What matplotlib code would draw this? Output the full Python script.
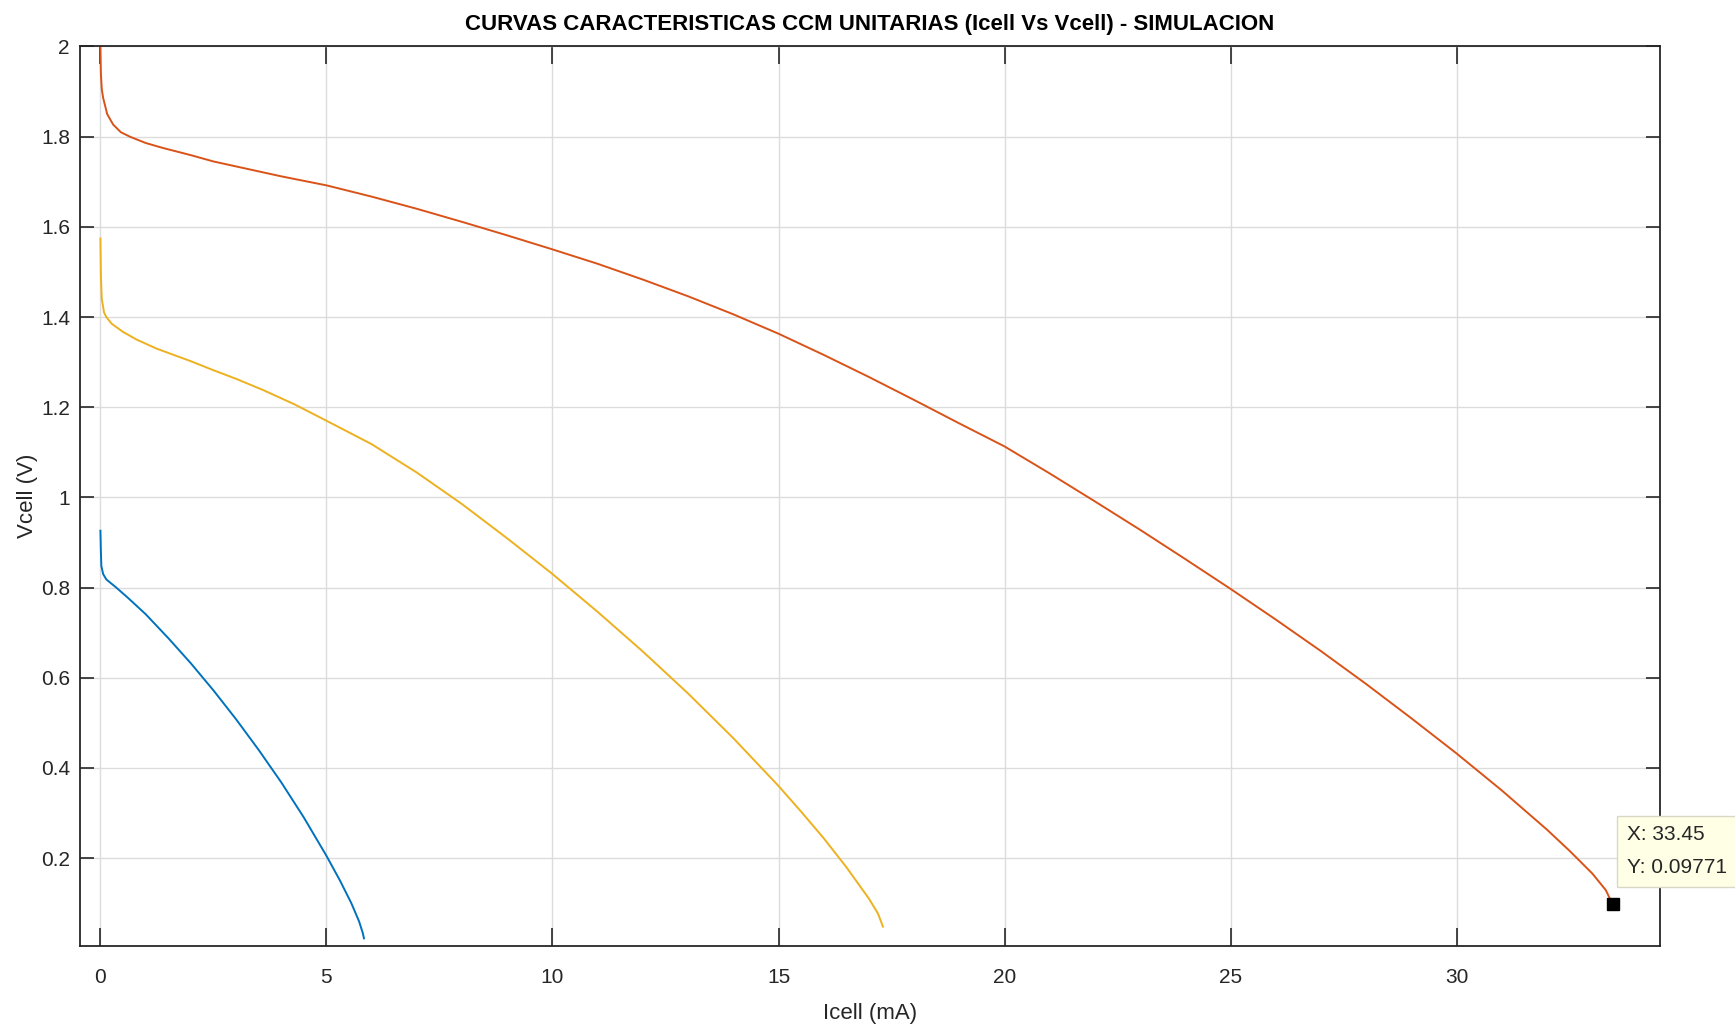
import numpy as np
import matplotlib
matplotlib.use("Agg")
import matplotlib.pyplot as plt

plt.rcParams['font.family'] = ['Liberation Sans', 'DejaVu Sans']

# curvas (Icell en mA, Vcell en V)
i_azul = [0, 0.01, 0.02, 0.06, 0.13, 0.35, 0.6, 1.0, 1.5, 2.0, 2.5, 3.0, 3.5, 4.0, 4.5,
          5.0, 5.3, 5.55, 5.72, 5.8, 5.83]
v_azul = [0.926, 0.88, 0.848, 0.83, 0.818, 0.80, 0.778, 0.741, 0.688, 0.632, 0.572, 0.508, 0.440, 0.368, 0.290,
          0.205, 0.150, 0.100, 0.060, 0.035, 0.022]

i_amarillo = [0, 0.01, 0.03, 0.08, 0.13, 0.25, 0.5, 0.8, 1.24, 2.0, 2.5, 3.0, 3.6, 4.3, 5.0,
              6.0, 7.0, 8.0, 9.0, 10.0, 11.0, 12.0, 13.0, 14.0, 15.0, 15.5, 16.0, 16.5, 17.0, 17.2, 17.31]
v_amarillo = [1.574, 1.49, 1.44, 1.41, 1.40, 1.385, 1.367, 1.350, 1.33, 1.302, 1.282, 1.263, 1.238, 1.206, 1.170,
              1.118, 1.055, 0.985, 0.909, 0.830, 0.746, 0.658, 0.565, 0.466, 0.360, 0.303, 0.244, 0.180, 0.110,
              0.077, 0.048]

i_naranja = [0, 0.01, 0.03, 0.06, 0.15, 0.28, 0.45, 0.65, 1.0, 1.38, 2.0, 2.5, 3.0, 4.0, 5.0,
             6.0, 7.0, 8.0, 9.0, 10.0, 11.0, 12.0, 13.0, 14.0, 15.0, 16.0, 17.0, 18.0, 19.0, 20.0,
             21.0, 22.0, 23.0, 24.0, 25.0, 26.0, 27.0, 28.0, 29.0, 30.0, 31.0, 32.0, 32.5, 33.0,
             33.3, 33.45]
v_naranja = [2.0, 1.94, 1.905, 1.886, 1.85, 1.827, 1.81, 1.80, 1.786, 1.775, 1.759, 1.745, 1.734, 1.712, 1.692,
             1.667, 1.640, 1.611, 1.581, 1.550, 1.518, 1.483, 1.446, 1.406, 1.363, 1.316, 1.267, 1.216, 1.164, 1.113,
             1.053, 0.991, 0.928, 0.863, 0.797, 0.729, 0.659, 0.586, 0.510, 0.432, 0.350, 0.263, 0.216, 0.166,
             0.129, 0.0977]

punto_x, punto_y = 33.45, 0.09771

fig = plt.figure(figsize=(17.35, 10.33), dpi=100)
ax = fig.add_axes([0.0459, 0.0842, 0.9109, 0.8708])

ax.plot(i_azul, v_azul, color='#0072BD', lw=1.4)
ax.plot(i_naranja, v_naranja, color='#D95319', lw=1.4)
ax.plot(i_amarillo, v_amarillo, color='#EDB120', lw=1.4)

# data tip
ax.plot([punto_x], [punto_y], marker='s', color='black', ms=9, clip_on=False)
ax.annotate('X: %.2f\nY: %.5f' % (punto_x, punto_y), xy=(punto_x, punto_y),
            xytext=(14, 27), textcoords='offset pixels', ha='left', va='bottom',
            fontsize=15, color='#262626', linespacing=1.95, annotation_clip=False,
            bbox=dict(boxstyle='square,pad=0.45', fc='#FFFFE6', ec='#D8D8C8', lw=1))

ax.set_xlim(-0.46, 34.5)
ax.set_ylim(0.005, 2.0)
ax.set_xticks([0, 5, 10, 15, 20, 25, 30])
ax.set_yticks([0.2, 0.4, 0.6, 0.8, 1, 1.2, 1.4, 1.6, 1.8, 2])
ax.set_yticklabels(['0.2', '0.4', '0.6', '0.8', '1', '1.2', '1.4', '1.6', '1.8', '2'])
ax.grid(True, color='#DCDCDC', lw=1)
ax.set_axisbelow(True)
ax.tick_params(axis='x', direction='in', length=13, width=1.2, top=True, labelsize=15, pad=16,
               colors='#262626')
ax.tick_params(axis='y', direction='in', length=10, width=1.2, right=True, labelsize=15, pad=7,
               colors='#262626')
for s in ax.spines.values():
    s.set_color('#262626')
    s.set_linewidth(1.3)

ax.set_title('CURVAS CARACTERISTICAS CCM UNITARIAS (Icell Vs Vcell) - SIMULACION',
             fontsize=16, fontweight='bold', color='black', pad=12)
ax.set_xlabel('Icell (mA)', fontsize=16, color='#262626', labelpad=11)
ax.set_ylabel('Vcell (V)', fontsize=16, color='#262626', labelpad=2)

plt.savefig('out.png', dpi=100)
